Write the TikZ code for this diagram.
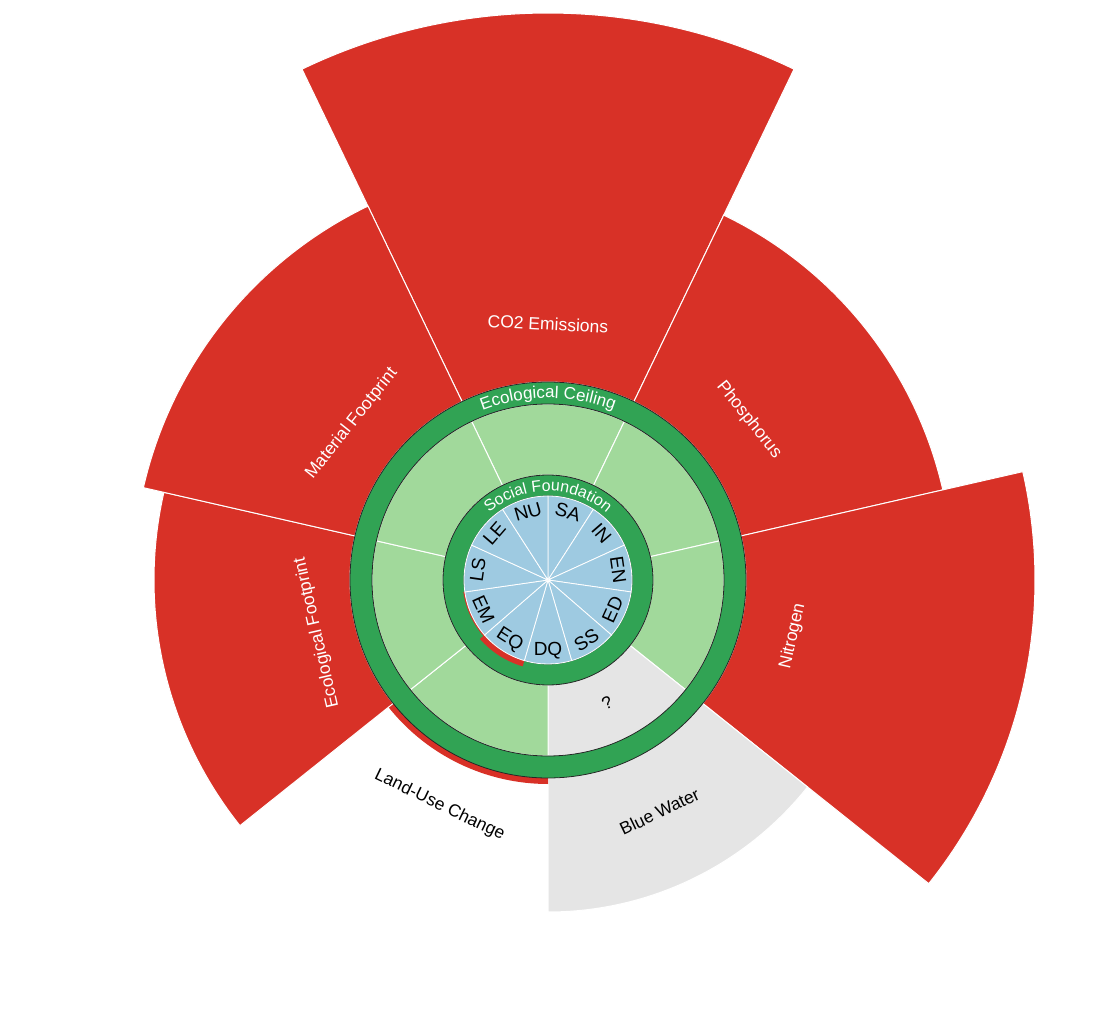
\documentclass[tikz,border=0pt]{standalone}
\usepackage{fontspec}
\setmainfont{Liberation Sans}
\usetikzlibrary{decorations.text}
\definecolor{cred}{HTML}{D83127}
\definecolor{lgreen}{HTML}{A1D99B}
\definecolor{dgreen}{HTML}{31A354}
\definecolor{cblue}{HTML}{9ECAE1}
\definecolor{cgrey}{HTML}{E5E5E5}
\newcommand\seg[5]{% style, theta1, theta2, r1, r2 (compass, clockwise)
  \path[#1] ({90-#2}:#4pt) arc[start angle={90-#2}, end angle={90-#3}, radius=#4pt]
    -- ({90-#3}:#5pt) arc[start angle={90-#3}, end angle={90-#2}, radius=#5pt] -- cycle;}
\newcommand\lab[5]{% style, theta, r, rotation, text
  \node[#1, rotate=#4] at ({90-#2}:#3pt) {#5};}
\begin{document}
\begin{tikzpicture}[x=1pt,y=1pt,
  outer/.style={fill=cred, draw=white, line width=1pt},
  inner/.style={fill=lgreen, draw=white, line width=1pt},
  soc/.style={fill=cblue, draw=white, line width=0.8pt},
  wlab/.style={text=white, font=\fontsize{17.5}{17.5}\selectfont, inner sep=0pt},
  blab/.style={text=black, font=\fontsize{17.5}{17.5}\selectfont, inner sep=0pt},
  slab/.style={text=black, font=\fontsize{19}{19}\selectfont, inner sep=0pt}]
\useasboundingbox (-548,-442) rectangle (546,580);
% outer ecological sectors
\seg{outer}{-25.714}{25.714}{198}{567}
\seg{outer}{25.714}{77.143}{198}{405}
\seg{outer}{77.143}{128.571}{198}{487}
\seg{fill=cgrey, draw=white, line width=1pt}{128.571}{180}{198}{332}
\seg{fill=cred}{180}{231.43}{190}{204}
\seg{outer}{231.43}{282.857}{198}{394}
\seg{outer}{282.857}{334.286}{198}{415}
% inner light green wedges
\seg{inner}{-25.714}{25.714}{105}{176}
\seg{inner}{25.714}{77.143}{105}{176}
\seg{inner}{77.143}{128.571}{105}{176}
\seg{fill=cgrey, draw=white, line width=1pt}{128.571}{180}{105}{176}
\seg{inner}{180}{231.43}{105}{176}
\seg{inner}{231.43}{282.857}{105}{176}
\seg{inner}{282.857}{334.286}{105}{176}
% ecological ceiling ring
\path[fill=dgreen, even odd rule] (0,0) circle[radius=198pt] (0,0) circle[radius=176pt];
\draw[black!85, line width=0.8pt] (0,0) circle[radius=198pt] (0,0) circle[radius=176pt];
% social foundation ring
\path[fill=dgreen, even odd rule] (0,0) circle[radius=105pt] (0,0) circle[radius=84pt];
\draw[black!85, line width=0.8pt] (0,0) circle[radius=105pt] (0,0) circle[radius=84pt];
% shortfall
\seg{fill=cred}{196.36}{229.09}{80}{90}
\seg{fill=cred}{229.09}{261.82}{80}{85.5}
% social wedges
\foreach \k in {0,...,10}{
  \seg{soc}{\k*32.7273}{(\k+1)*32.7273}{0.01}{84}
}
% inner labels
\lab{slab}{16.36}{71}{-16.36}{SA}
\lab{slab}{49.09}{71}{-49.09}{IN}
\lab{slab}{81.82}{71}{-81.82}{EN}
\lab{slab}{114.55}{71}{65.45}{ED}
\lab{slab}{147.27}{71}{32.73}{SS}
\lab{slab}{180}{71}{0}{DQ}
\lab{slab}{212.73}{71}{-32.73}{EQ}
\lab{slab}{245.45}{71}{-65.45}{EM}
\lab{slab}{278.18}{71}{81.82}{LS}
\lab{slab}{310.91}{71}{49.09}{LE}
\lab{slab}{343.64}{71}{16.36}{NU}
% ring titles
\path[decorate, decoration={text along path, text align=center,
  text={|\color{white}\fontsize{17}{17}\selectfont|Ecological Ceiling}}]
  (130:182pt) arc[start angle=130, end angle=50, radius=182pt];
\path[decorate, decoration={text along path, text align=center,
  text={|\color{white}\fontsize{16}{16}\selectfont|Social Foundation}}]
  (160:89pt) arc[start angle=160, end angle=20, radius=89pt];
% outer labels
\lab{wlab}{0}{256}{-3}{CO2 Emissions}
\lab{wlab}{51.43}{257}{-51.43}{Phosphorus}
\lab{wlab}{102.86}{251}{77.14}{Nitrogen}
\lab{blab}{154.29}{257}{25.71}{Blue Water}
\lab{blab}{205.71}{250}{-25.71}{Land-Use Change}
\lab{wlab}{257.14}{237}{102.86}{Ecological Footprint}
\lab{wlab}{308.57}{251}{51.43}{Material Footprint}
\lab{blab}{154.29}{136}{25.71}{?}
\end{tikzpicture}
\end{document}
